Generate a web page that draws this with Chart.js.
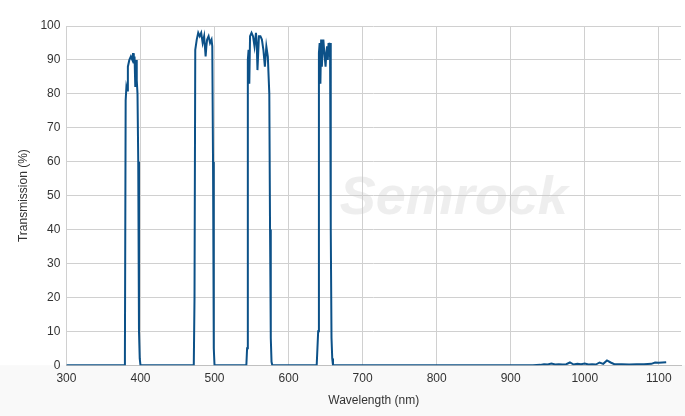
<!DOCTYPE html>
<html>
<head>
<meta charset="utf-8">
<script src="https://cdn.jsdelivr.net/npm/chart.js@4.4.1/dist/chart.umd.min.js"></script>
<style>
  html, body { margin: 0; padding: 0; background: #fff; }
  #wrap { width: 685px; height: 416px; }
</style>
</head>
<body>
<div id="wrap"><canvas id="grafico"></canvas></div>
<script>
const longitudes = [
  300, 378, 379, 380, 381, 382, 383, 385, 387, 389, 390, 391, 392, 393, 394, 395, 396, 397, 398, 399, 400, 401,
  470, 472, 473, 474, 476, 478, 480, 482, 484, 486, 488, 489, 490, 492, 494, 496, 497, 498, 499, 500,
  543, 544, 545, 546, 547, 548, 550, 552, 554, 556, 557, 558, 560, 562, 564, 566, 568, 570, 572, 574, 575, 576, 577, 578,
  638, 640, 641, 642, 643, 644, 645, 646, 647, 648, 650, 651, 652, 653, 654, 655, 656, 657, 658, 659, 660, 661,
  900, 930, 940, 945, 950, 955, 960, 965, 970, 975, 980, 985, 990, 995, 1000, 1005, 1010, 1015, 1020, 1025, 1030, 1035, 1040, 1050, 1060, 1070, 1080, 1090, 1095, 1100, 1110
];
const transmision = [
  0, 0, 3, 78, 82, 81, 88, 90, 91, 90, 92, 89, 91, 82, 90, 84, 80, 60, 10, 2, 0, 0,
  0, 0, 20, 93, 96, 98, 97, 98, 95, 97, 91, 94, 96, 97, 95, 96, 94, 60, 5, 0,
  0, 5, 90, 93, 83, 97, 98, 97, 94, 98, 95, 87, 97, 97, 96, 93, 88, 94, 91, 80, 40, 8, 1, 0,
  0, 10, 92, 95, 83, 96, 88, 93, 96, 93, 88, 92, 94, 90, 95, 93, 95, 40, 8, 2, 0, 0,
  0, 0, 0.1, 0.3, 0.2, 0.5, 0.2, 0.3, 0.2, 0.3, 0.8, 0.2, 0.4, 0.3, 0.5, 0.2, 0.3, 0.2, 0.8, 0.4, 1.4, 0.8, 0.3, 0.3, 0.2, 0.3, 0.3, 0.4, 0.8, 0.7, 0.9
];
const ticksX = [300, 400, 500, 600, 700, 800, 900, 1000, 1100];

const puntos = longitudes.map((x, i) => ({ x: x, y: transmision[i] }));

const marcaAgua = {
  id: 'marcaAgua',
  beforeDraw(chart) {
    const { ctx, chartArea } = chart;
    ctx.save();
    ctx.fillStyle = '#f9f9f9';
    ctx.fillRect(0, chartArea.bottom, chart.width, chart.height - chartArea.bottom);
    ctx.restore();
  },
  beforeDatasetsDraw(chart) {
    const { ctx, chartArea } = chart;
    ctx.save();
    ctx.font = 'italic bold 54px "Liberation Sans", Arial, sans-serif';
    ctx.fillStyle = 'rgba(200,200,200,0.3)';
    ctx.textAlign = 'center';
    ctx.textBaseline = 'middle';
    ctx.fillText('Semrock', (chartArea.left + chartArea.right) / 2 + 80, (chartArea.top + chartArea.bottom) / 2 + 4);
    ctx.restore();
  }
};

new Chart(document.getElementById('grafico').getContext('2d'), {
  type: 'line',
  data: {
    datasets: [{
      label: 'Transmission',
      data: puntos,
      borderColor: '#0c5188',
      borderWidth: 2,
      pointRadius: 0,
      tension: 0,
      fill: false
    }]
  },
  options: {
    responsive: true,
    maintainAspectRatio: false,
    animation: false,
    layout: { padding: { top: 26, right: 4, left: 12, bottom: 4 } },
    plugins: { legend: { display: false }, tooltip: { enabled: false } },
    scales: {
      x: {
        type: 'linear',
        min: 300,
        max: 1130,
        afterBuildTicks: axis => { axis.ticks = ticksX.map(v => ({ value: v })); },
        title: { display: true, text: 'Wavelength (nm)', color: '#333', font: { family: 'Liberation Sans', size: 12 }, padding: { top: 2 } },
        ticks: { color: '#333', font: { family: 'Liberation Sans', size: 12 }, maxRotation: 0, padding: 6, callback: v => String(v) },
        grid: { color: '#d0d0d0', drawTicks: false },
        border: { color: '#c0c0c0' }
      },
      y: {
        min: 0,
        max: 100,
        ticks: { stepSize: 10, color: '#333', font: { family: 'Liberation Sans', size: 12 }, padding: 6 },
        title: { display: true, text: 'Transmission (%)', color: '#333', font: { family: 'Liberation Sans', size: 12 } },
        grid: { color: '#d0d0d0', drawTicks: false },
        border: { display: false }
      }
    }
  },
  plugins: [marcaAgua]
});
</script>
</body>
</html>
